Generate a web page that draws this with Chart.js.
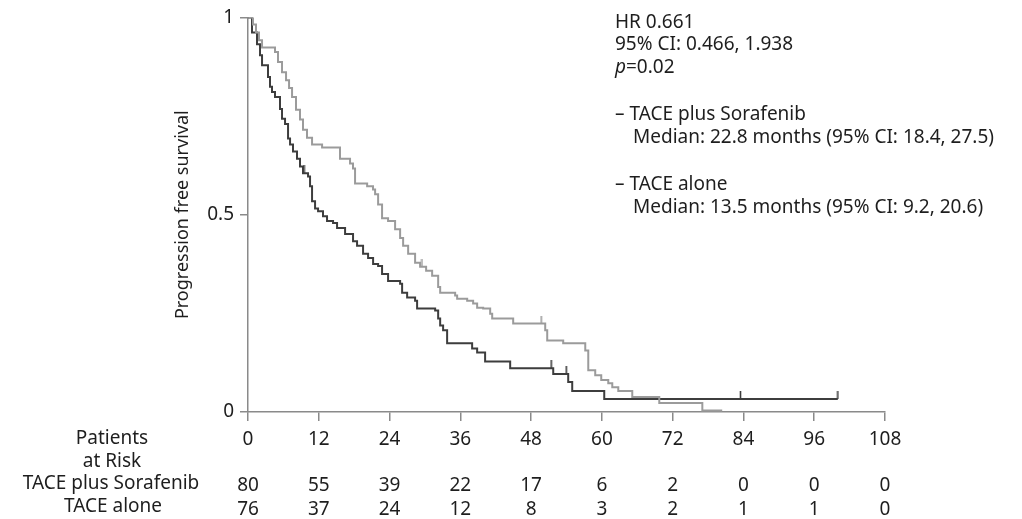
<!DOCTYPE html>
<html>
<head>
<meta charset="utf-8">
<script src="https://cdn.jsdelivr.net/npm/chart.js@4/dist/chart.umd.min.js"></script>
<style>
  html, body { margin: 0; padding: 0; background: #fff; }
  #wrap { width: 1022px; height: 519px; position: relative; }
</style>
</head>
<body>
<div id="wrap"><canvas id="kmChart"></canvas></div>
<script>
// === Data ===
const months = [0, 12, 24, 36, 48, 60, 72, 84, 96, 108];
const riskSorafenib = [80, 55, 39, 22, 17, 6, 2, 0, 0, 0];
const riskAlone = [76, 37, 24, 12, 8, 3, 2, 1, 1, 0];

// Kaplan-Meier steps: time (months) and survival after each drop
const sorafenibTime = [0, 0.85, 1.36, 1.87, 2.38, 4.58, 5.09, 5.77, 6.45, 6.96, 7.47, 8.14, 8.82, 9.33, 10.0, 10.86, 12.56,
  15.6, 17.3, 17.8, 18.15, 20.2, 21.2, 21.55, 22.06, 22.73, 23.75, 24.94, 25.79, 26.3, 27.15, 28.33, 29.18, 30.2, 31.22,
  32.24, 32.58, 35.12, 35.46, 37.16, 38.17, 38.85, 39.87, 41.06, 41.4, 44.96, 50.39, 50.73, 53.44, 57.18, 57.69, 58.87,
  59.89, 61.08, 61.76, 62.78, 65.15, 69.73, 77.03, 80.4];
const sorafenibSurv = [1, 0.982, 0.962, 0.942, 0.924, 0.912, 0.887, 0.861, 0.841, 0.821, 0.798, 0.766, 0.741, 0.715, 0.695,
  0.678, 0.67, 0.642, 0.63, 0.617, 0.579, 0.572, 0.564, 0.552, 0.526, 0.491, 0.484, 0.463, 0.441, 0.421, 0.401, 0.378, 0.368,
  0.358, 0.345, 0.317, 0.302, 0.295, 0.287, 0.282, 0.275, 0.264, 0.262, 0.249, 0.237, 0.224, 0.207, 0.181, 0.174, 0.156,
  0.106, 0.093, 0.081, 0.073, 0.063, 0.053, 0.038, 0.023, 0.004, 0.004];
const sorafenibCensorTime = [29.5, 49.7];
const sorafenibCensorSurv = [0.368, 0.224];

const aloneTime = [0, 0.68, 1.53, 2.04, 2.38, 3.39, 3.73, 4.07, 4.58, 5.43, 5.77, 6.28, 6.79, 7.13, 7.63, 8.31, 8.82, 9.33,
  10.18, 10.52, 10.86, 11.37, 11.88, 12.72, 13.4, 14.42, 15.1, 16.46, 17.81, 18.49, 19.51, 20.36, 21.21, 22.06, 22.73,
  23.75, 25.79, 26.13, 26.98, 28.33, 28.67, 31.73, 32.24, 32.58, 33.08, 33.76, 38.0, 38.85, 40.2, 44.45, 51.75, 54.29,
  54.97, 60.4, 100];
const aloneSurv = [1, 0.962, 0.932, 0.904, 0.879, 0.849, 0.824, 0.811, 0.798, 0.768, 0.743, 0.73, 0.693, 0.678, 0.66, 0.642,
  0.622, 0.605, 0.597, 0.572, 0.534, 0.516, 0.509, 0.496, 0.484, 0.479, 0.466, 0.451, 0.433, 0.421, 0.401, 0.39, 0.375,
  0.37, 0.35, 0.332, 0.325, 0.302, 0.29, 0.282, 0.262, 0.257, 0.237, 0.219, 0.207, 0.174, 0.161, 0.151, 0.128, 0.111,
  0.096, 0.076, 0.053, 0.033, 0.033];
const aloneCensorTime = [9.5, 51.4, 53.95, 83.5, 100];
const aloneCensorSurv = [0.605, 0.111, 0.096, 0.033, 0.033];

const statLines = ['HR 0.661', '95% CI: 0.466, 1.938'];
const groupNames = ['TACE plus Sorafenib', 'TACE alone'];
const groupMedians = ['Median: 22.8 months (95% CI: 18.4, 27.5)', 'Median: 13.5 months (95% CI: 9.2, 20.6)'];

const FONT = '"Noto Sans", "Open Sans", sans-serif';
const LIGHT = '#9b9b9b';
const DARK = '#3d3d3d';
const TEXT = '#1e1e1e';
const FS = 19;

const toXY = (xs, ys) => xs.map((x, i) => ({ x: x, y: ys[i] }));

// censor tick: vertical line going up from the point
function censorMark(color) {
  const c = document.createElement('canvas');
  c.width = 3; c.height = 16;
  const g = c.getContext('2d');
  g.strokeStyle = color; g.lineWidth = 1.6;
  g.beginPath(); g.moveTo(1.5, 0); g.lineTo(1.5, 8); g.stroke();
  return c;
}

const textPlugin = {
  id: 'kmText',
  afterDraw(chart) {
    const ctx = chart.ctx;
    ctx.save();
    ctx.fillStyle = TEXT;
    ctx.textBaseline = 'middle';
    ctx.font = FS + 'px ' + FONT;
    // stats block
    ctx.textAlign = 'left';
    ctx.fillText(statLines[0], 615, 23);
    ctx.fillText(statLines[1], 615, 45);
    ctx.font = 'italic ' + FS + 'px ' + FONT;
    ctx.fillText('p', 615, 68);
    const pw = ctx.measureText('p').width;
    ctx.font = FS + 'px ' + FONT;
    ctx.fillText('=0.02', 615 + pw, 68);
    ctx.fillText('\u2013 ' + groupNames[0], 615, 115);
    ctx.fillText(groupMedians[0], 633, 138);
    ctx.fillText('\u2013 ' + groupNames[1], 615, 185);
    ctx.fillText(groupMedians[1], 633, 208);
    // risk table row labels
    ctx.textAlign = 'center';
    ctx.fillText('Patients', 112, 439);
    ctx.fillText('at Risk', 112, 462);
    ctx.fillText(groupNames[0], 111, 484);
    ctx.fillText(groupNames[1], 113, 507);
    ctx.restore();
  }
};

const ctxKm = document.getElementById('kmChart').getContext('2d');
new Chart(ctxKm, {
  type: 'line',
  data: {
    datasets: [
      {
        label: groupNames[0],
        data: toXY(sorafenibTime, sorafenibSurv),
        borderColor: LIGHT,
        borderWidth: 2,
        stepped: 'before',
        pointRadius: 0,
        fill: false
      },
      {
        label: groupNames[1],
        data: toXY(aloneTime, aloneSurv),
        borderColor: DARK,
        borderWidth: 2,
        stepped: 'before',
        pointRadius: 0,
        fill: false
      },
      {
        type: 'scatter',
        data: toXY(sorafenibCensorTime, sorafenibCensorSurv),
        pointStyle: censorMark(LIGHT),
        pointRadius: 8
      },
      {
        type: 'scatter',
        data: toXY(aloneCensorTime, aloneCensorSurv),
        pointStyle: censorMark(DARK),
        pointRadius: 8
      }
    ]
  },
  options: {
    responsive: true,
    maintainAspectRatio: false,
    animation: false,
    layout: { padding: { left: 0, right: 137, top: 15, bottom: 0 } },
    plugins: {
      legend: { display: false },
      tooltip: { enabled: false }
    },
    scales: {
      x: {
        type: 'linear',
        min: 0,
        max: 108,
        afterFit(scale) { scale.height = 107; },
        afterBuildTicks(scale) { scale.ticks = months.map(v => ({ value: v })); },
        border: { color: '#8a8a8a', width: 1.5 },
        grid: { drawOnChartArea: false, drawTicks: true, tickLength: 9, color: '#8a8a8a', lineWidth: 1.5 },
        ticks: {
          autoSkip: false,
          maxRotation: 0,
          padding: 7,
          color: TEXT,
          font: { family: FONT, size: FS, lineHeight: 1.22 },
          callback(value) {
            const i = months.indexOf(value);
            return [String(value), '', String(riskSorafenib[i]), String(riskAlone[i])];
          }
        }
      },
      y: {
        min: 0,
        max: 1,
        afterFit(scale) { scale.width = 248; },
        afterBuildTicks(scale) { scale.ticks = [0, 0.5, 1].map(v => ({ value: v })); },
        border: { color: '#8a8a8a', width: 1.5 },
        grid: { drawOnChartArea: false, drawTicks: true, tickLength: 8, color: '#8a8a8a', lineWidth: 1.5 },
        ticks: {
          padding: 6,
          color: TEXT,
          font: { family: FONT, size: FS },
          callback: v => String(v)
        },
        title: {
          display: true,
          text: 'Progression free survival',
          color: TEXT,
          font: { family: FONT, size: 18 },
          padding: { top: 172, bottom: 0 }
        }
      }
    }
  },
  plugins: [textPlugin]
});
</script>
</body>
</html>
